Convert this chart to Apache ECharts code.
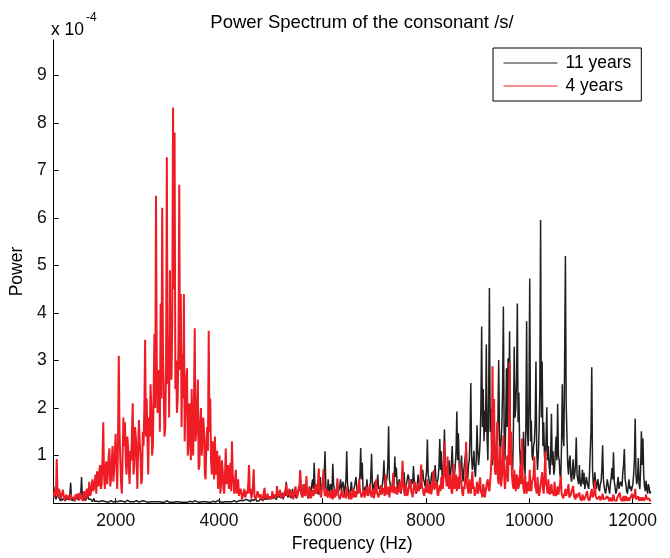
<!DOCTYPE html>
<html>
<head>
<meta charset="utf-8">
<script src="https://cdn.jsdelivr.net/npm/echarts@6/dist/echarts.min.js"></script>
<style>html,body{margin:0;padding:0;background:#fff;}#c{width:670px;height:558px;}</style>
</head>
<body>
<div id="c"></div>
<script>
// Frequency grid (Hz): first sample and spacing
const freqStart = 800;
const freqStep = 15;

// Power of the 11-year-old speaker, in units of 1e-4
const power11 = [
0.36,0.20,0.15,0.08,0.10,0.18,0.30,0.10,0.08,0.05,0.12,0.06,0.05,0.10,0.10,0.04,0.15,0.08,0.06,0.12,0.08,0.20,0.43,0.10,0.05,0.08,0.10,0.04,0.04,0.06,0.12,0.08,0.06,0.03,0.08,0.20,0.55,0.10,0.05,0.06,
0.10,0.05,0.04,0.12,0.30,0.08,0.06,0.04,0.08,0.05,0.03,0.06,0.10,0.04,0.05,0.03,0.04,0.06,0.08,0.03,0.03,0.05,0.05,0.02,0.02,0.04,0.06,0.03,0.03,0.05,0.04,0.02,0.02,0.04,0.05,0.03,0.03,0.02,0.02,0.04,
0.04,0.02,0.02,0.03,0.03,0.05,0.05,0.02,0.02,0.04,0.03,0.02,0.02,0.03,0.04,0.06,0.02,0.03,0.03,0.02,0.05,0.03,0.02,0.04,0.03,0.02,0.02,0.05,0.04,0.03,0.02,0.02,0.03,0.04,0.02,0.03,0.05,0.02,0.02,0.03,
0.03,0.04,0.02,0.02,0.04,0.03,0.02,0.05,0.03,0.02,0.05,0.03,0.02,0.02,0.03,0.04,0.02,0.03,0.04,0.02,0.02,0.05,0.03,0.02,0.02,0.03,0.05,0.04,0.02,0.02,0.03,0.05,0.02,0.03,0.04,0.02,0.02,0.03,0.03,0.04,
0.02,0.03,0.04,0.02,0.02,0.05,0.03,0.02,0.06,0.03,0.02,0.04,0.03,0.02,0.02,0.03,0.04,0.05,0.02,0.02,0.03,0.04,0.05,0.02,0.02,0.03,0.03,0.02,0.02,0.04,0.04,0.03,0.02,0.02,0.03,0.05,0.02,0.03,0.05,0.02,
0.02,0.04,0.03,0.02,0.02,0.03,0.04,0.05,0.02,0.02,0.03,0.04,0.06,0.02,0.02,0.03,0.03,0.05,0.02,0.02,0.04,0.03,0.02,0.04,0.03,0.02,0.05,0.03,0.02,0.04,0.03,0.02,0.02,0.05,0.04,0.03,0.02,0.04,0.03,0.05,
0.04,0.03,0.06,0.04,0.03,0.05,0.05,0.07,0.08,0.04,0.04,0.06,0.06,0.03,0.03,0.08,0.07,0.05,0.05,0.09,0.10,0.06,0.04,0.08,0.08,0.05,0.06,0.10,0.12,0.06,0.05,0.08,0.09,0.12,0.07,0.05,0.15,0.08,0.06,0.10,
0.10,0.06,0.18,0.10,0.08,0.14,0.12,0.07,0.06,0.15,0.20,0.12,0.10,0.08,0.15,0.22,0.08,0.12,0.25,0.15,0.45,0.20,0.12,0.08,0.20,0.28,0.10,0.15,0.30,0.12,0.15,0.25,0.22,0.10,0.08,0.18,0.35,0.25,0.69,0.30,
0.20,0.12,0.40,0.25,0.15,0.22,0.30,0.18,0.10,0.20,0.35,0.15,0.25,0.40,0.50,0.30,0.85,0.35,0.20,0.28,0.40,0.18,0.15,0.30,0.55,0.25,0.30,0.40,0.45,0.60,1.09,0.35,0.25,0.18,0.50,0.30,0.20,0.40,0.35,0.22,
0.83,0.40,0.30,0.20,0.15,0.28,0.40,0.22,0.20,0.35,0.50,0.25,0.25,0.45,0.35,0.18,0.15,0.50,1.09,0.40,0.30,0.15,0.20,0.30,0.45,0.25,0.15,0.28,0.35,0.45,0.55,0.30,0.25,0.20,0.40,0.60,1.16,0.50,0.85,0.30,
0.20,0.30,0.35,0.22,0.50,0.28,0.15,0.25,0.30,0.55,1.04,0.40,0.25,0.35,0.45,0.20,0.20,0.40,0.60,0.30,0.35,0.18,0.15,0.30,0.40,0.55,0.90,0.35,0.30,0.45,0.55,0.80,1.62,0.50,0.40,0.30,0.25,0.45,0.60,0.40,
0.98,0.55,0.75,0.40,0.30,0.45,0.50,0.25,0.20,0.35,0.45,0.55,0.65,0.30,0.25,0.40,0.40,0.60,0.55,0.35,0.30,0.45,0.50,0.40,0.78,0.50,0.35,0.25,0.20,0.40,0.60,0.45,0.40,0.30,0.30,0.55,0.70,0.50,0.45,0.35,
0.35,0.70,1.34,0.60,0.50,0.40,0.30,0.55,0.65,0.45,0.40,0.60,0.80,0.50,0.35,0.45,0.55,0.80,1.35,0.70,1.09,0.55,0.40,0.90,1.55,0.80,0.75,0.60,0.50,0.70,0.90,0.55,0.60,0.85,1.20,0.70,0.45,0.60,0.80,1.10,
1.93,0.90,1.47,0.80,0.60,0.75,1.00,0.60,0.45,0.70,0.85,1.00,1.20,0.65,0.50,0.80,0.90,1.40,2.53,1.00,0.70,0.85,1.10,0.70,0.55,0.90,1.64,1.10,0.80,1.00,1.30,2.00,3.72,1.60,2.40,1.30,1.95,1.50,3.34,1.40,
0.90,2.20,4.53,1.50,1.98,1.00,0.80,1.20,1.40,0.90,0.60,1.10,1.20,1.80,3.01,1.40,1.00,1.30,1.60,2.40,4.14,1.50,0.90,1.70,2.84,1.60,3.05,1.90,3.62,1.40,1.20,0.90,0.70,1.60,3.29,1.80,2.00,2.60,4.20,1.70,
2.33,1.20,0.80,1.10,1.00,0.70,1.50,0.90,0.60,1.60,3.83,1.50,1.20,2.20,4.73,1.30,1.74,1.00,0.90,1.20,1.30,1.70,2.98,1.10,0.70,1.00,1.50,2.40,5.96,1.80,2.98,1.20,1.70,1.00,0.80,1.30,2.02,0.90,1.20,0.80,
0.60,1.00,1.88,0.80,1.09,0.60,0.70,1.10,1.40,0.90,2.09,1.00,0.90,0.60,0.50,1.20,2.50,1.40,1.20,3.00,5.20,2.10,1.43,0.80,0.60,0.90,1.00,0.55,0.45,0.70,0.92,0.50,0.60,0.80,1.38,0.60,0.50,0.40,0.80,0.45,
0.35,0.50,0.70,0.40,0.64,0.30,0.40,0.55,0.55,0.35,0.30,0.60,1.09,1.50,2.86,0.70,0.40,0.30,0.65,0.40,0.30,0.45,0.50,0.30,0.25,0.40,0.45,0.70,1.22,0.50,0.35,0.25,0.20,0.35,0.50,0.40,0.30,0.20,0.40,0.55,
0.74,0.50,1.07,0.45,0.35,0.20,0.25,0.40,0.55,0.30,0.30,0.45,0.45,0.35,0.64,0.80,1.14,0.50,0.40,0.25,0.20,0.35,0.50,0.30,0.35,0.25,0.25,0.40,0.60,0.90,1.78,0.60,0.40,0.50,0.95,0.40,0.30,0.70,1.51,0.80,
1.36,0.60,0.35,0.25,0.47,0.30,0.20,0.40,0.33,0.20,0.25
];

// Power of the 4-year-old speaker, in units of 1e-4
const power4 = [
0.25,0.12,0.30,0.18,0.93,0.20,0.15,0.30,0.22,0.08,0.12,0.20,0.28,0.15,0.10,0.05,0.18,0.12,0.08,0.16,0.15,0.06,0.20,0.10,0.06,0.14,0.12,0.05,0.18,0.10,0.08,0.20,0.14,0.06,0.22,0.12,0.10,0.15,0.05,0.25,
0.16,0.08,0.25,0.30,0.12,0.20,0.45,0.15,0.20,0.35,0.50,0.25,0.30,0.45,0.60,0.20,0.67,0.50,0.35,0.70,0.80,0.30,0.40,0.95,1.70,0.60,0.30,0.75,0.88,0.40,0.60,1.00,1.15,0.35,0.50,0.90,1.20,0.45,0.70,1.10,
1.46,0.80,0.30,1.20,3.10,1.50,0.90,0.40,0.20,1.00,1.80,1.20,1.70,0.90,0.60,1.40,1.20,0.70,0.40,1.10,0.90,1.50,2.10,0.60,0.80,1.60,1.40,0.90,0.30,1.20,1.75,1.30,1.00,0.40,0.50,1.50,1.20,2.00,3.44,1.40,
2.20,1.30,0.60,1.80,1.40,2.50,2.00,1.00,1.20,2.40,3.56,2.00,6.47,3.00,1.90,2.60,2.80,1.50,4.20,2.20,6.22,3.20,2.30,1.40,1.60,2.90,7.28,2.50,3.50,1.80,4.90,2.70,2.60,3.80,8.33,4.50,7.80,2.40,3.00,1.90,
2.20,3.40,6.70,2.80,4.40,1.60,3.15,2.20,4.40,1.30,2.00,2.60,2.84,1.00,1.20,2.10,1.70,0.90,2.40,1.40,1.00,2.20,3.68,1.30,1.50,2.00,2.60,0.70,0.80,1.70,2.00,1.00,0.97,1.80,1.50,0.60,0.50,1.30,1.60,1.10,
3.63,1.50,2.20,0.90,0.60,1.30,1.00,0.50,1.40,0.60,0.80,1.10,0.30,0.70,1.00,0.20,0.40,0.90,0.70,0.30,0.20,0.60,1.15,0.40,0.50,0.80,0.30,0.50,0.85,0.25,1.30,0.60,0.40,0.20,0.50,0.70,0.20,0.35,0.50,0.15,
0.15,0.30,0.25,0.08,0.10,0.20,0.30,0.12,0.12,0.25,0.20,0.40,0.80,0.20,0.30,0.10,0.20,0.35,0.71,0.15,0.15,0.08,0.10,0.25,0.22,0.12,0.08,0.18,0.18,0.05,0.12,0.22,0.32,0.10,0.10,0.15,0.20,0.08,0.06,0.14,
0.15,0.08,0.25,0.12,0.10,0.18,0.20,0.10,0.36,0.15,0.12,0.22,0.28,0.10,0.08,0.20,0.22,0.12,0.15,0.28,0.40,0.15,0.18,0.25,0.30,0.12,0.10,0.20,0.25,0.08,0.15,0.30,0.35,0.18,0.12,0.22,0.28,0.35,0.69,0.20,
0.20,0.12,0.30,0.40,0.15,0.25,0.57,0.20,0.22,0.10,0.35,0.18,0.10,0.22,0.28,0.15,0.18,0.30,0.40,0.20,0.25,0.45,0.73,0.22,0.20,0.12,0.35,0.40,0.71,0.25,0.15,0.20,0.30,0.12,0.10,0.18,0.25,0.10,0.18,0.28,
0.08,0.15,0.30,0.12,0.15,0.28,0.52,0.18,0.20,0.08,0.12,0.22,0.28,0.12,0.10,0.18,0.22,0.10,0.35,0.20,0.15,0.08,0.25,0.15,0.08,0.20,0.30,0.12,0.18,0.25,0.12,0.20,0.35,0.22,0.50,0.28,0.20,0.12,0.10,0.22,
0.28,0.12,0.15,0.25,0.35,0.15,0.22,0.30,0.40,0.20,0.12,0.22,0.30,0.10,0.20,0.35,0.50,0.22,0.25,0.12,0.15,0.28,0.38,0.18,0.22,0.32,0.30,0.15,0.60,0.25,0.18,0.30,0.35,0.12,0.25,0.38,0.40,0.22,0.64,0.30,
0.20,0.28,0.35,0.18,0.15,0.30,0.45,0.22,0.30,0.50,0.89,0.35,0.25,0.15,0.40,0.28,0.15,0.22,0.35,0.45,0.50,0.25,0.20,0.12,0.30,0.38,0.45,0.20,0.18,0.30,0.40,0.25,0.25,0.50,0.81,0.35,0.30,0.20,0.15,0.28,
0.35,0.22,0.50,0.30,0.20,0.35,0.40,0.18,0.30,0.45,0.69,0.28,0.25,0.40,0.45,0.20,0.15,0.30,0.38,0.25,0.55,0.40,0.30,0.70,1.29,0.60,0.50,0.35,0.98,0.45,0.30,0.55,0.60,0.25,0.20,0.50,0.81,0.30,0.40,0.60,
0.25,0.45,0.55,0.30,0.85,0.50,0.40,0.22,0.15,0.35,0.30,0.60,1.29,0.40,0.30,0.20,0.50,0.35,0.20,0.45,0.67,0.30,0.35,0.15,0.15,0.28,0.45,0.20,0.25,0.40,0.54,0.25,0.20,0.12,0.40,0.30,0.12,0.22,0.35,0.45,
0.50,0.30,0.25,0.45,0.70,1.10,2.88,0.90,2.19,0.70,0.60,1.00,1.71,0.50,0.40,0.80,1.19,0.35,0.50,0.90,1.43,0.60,0.30,0.50,0.80,1.00,0.45,1.30,2.97,0.80,1.50,0.60,0.40,0.30,0.70,0.45,0.25,0.60,0.55,0.30,
0.35,0.55,0.80,0.40,1.36,0.50,0.30,0.20,0.60,0.35,0.20,0.40,0.45,0.25,0.70,0.30,0.25,0.45,0.50,0.60,0.98,0.35,0.30,0.20,0.55,0.30,0.15,0.25,0.40,0.50,0.65,0.30,0.20,0.55,1.09,0.40,0.35,0.20,0.50,0.28,
0.18,0.30,0.40,0.20,0.25,0.15,0.45,0.25,0.15,0.22,0.35,0.18,0.20,0.40,0.57,0.22,0.25,0.10,0.12,0.20,0.30,0.15,0.18,0.28,0.40,0.12,0.10,0.18,0.25,0.30,0.36,0.15,0.12,0.08,0.20,0.12,0.08,0.15,0.22,0.10,
0.10,0.05,0.18,0.12,0.06,0.10,0.15,0.20,0.25,0.10,0.08,0.05,0.14,0.22,0.30,0.12,0.10,0.20,0.47,0.15,0.12,0.08,0.05,0.10,0.15,0.06,0.08,0.12,0.20,0.08,0.04,0.10,0.10,0.06,0.15,0.10,0.06,0.04,0.12,0.08,
0.04,0.10,0.18,0.06,0.08,0.04,0.05,0.12,0.12,0.08,0.22,0.10,0.06,0.04,0.10,0.15,0.04,0.08,0.15,0.05,0.08,0.12,0.05,0.03,0.12,0.08,0.20,0.10,0.06,0.15,0.30,0.08,0.04,0.06,0.14,0.05,0.08,0.12,0.05,0.04,
0.12,0.05,0.06,0.10,0.18,0.08,0.05,0.12,0.10,0.04,0.06
];

const xTicks = [2000, 4000, 6000, 8000, 10000, 12000];
const yTicks = [1, 2, 3, 4, 5, 6, 7, 8, 9];
const seriesNames = ['11 years', '4 years'];

const FONT = '"Liberation Sans", Arial, Helvetica, sans-serif';
const toPairs = arr => arr.map((v, i) => [freqStart + i * freqStep, v]);

const chart = echarts.init(document.getElementById('c'), null, {renderer: 'canvas'});
chart.setOption({
  animation: false,
  backgroundColor: '#fff',
  title: {
    text: 'Power Spectrum of the consonant /s/',
    left: 357, top: 8, textAlign: 'center',
    textStyle: {fontFamily: FONT, fontSize: 18.5, fontWeight: 'normal', color: '#000'}
  },
  graphic: [{
    type: 'text', left: 51, top: 12,
    style: {
      text: '{b|x 10}{s|-4}',
      rich: {
        b: {fontFamily: FONT, fontSize: 17.5, fill: '#000', verticalAlign: 'bottom', padding: [9, 0, 0, 0]},
        s: {fontFamily: FONT, fontSize: 12, fill: '#000', verticalAlign: 'top', padding: [0, 0, 10, 2]}
      }
    }
  }],
  legend: {
    data: seriesNames,
    orient: 'vertical',
    left: 493, top: 48,
    padding: [5, 10, 5, 10],
    itemGap: 3,
    itemWidth: 54, itemHeight: 20,
    borderColor: '#000', borderWidth: 1, borderRadius: 0,
    backgroundColor: '#fff',
    itemStyle: {opacity: 0},
    lineStyle: {width: 1},
    textStyle: {fontFamily: FONT, fontSize: 17.5, color: '#000', lineHeight: 20, padding: [0, 0, 0, 3]}
  },
  grid: {left: 50.7, right: 19.3, top: 40, bottom: 45.3, containLabel: false},
  xAxis: {
    type: 'value', min: 800, max: 12350,
    name: 'Frequency (Hz)', nameLocation: 'middle', nameGap: 30,
    nameTextStyle: {fontFamily: FONT, fontSize: 17.5, color: '#000'},
    axisLine: {show: true, lineStyle: {color: '#000', width: 1}},
    axisTick: {show: true, inside: true, length: 5, customValues: xTicks, lineStyle: {color: '#000'}},
    axisLabel: {customValues: xTicks, formatter: v => String(v), fontFamily: FONT, fontSize: 17.5, color: '#111', margin: 9},
    splitLine: {show: false}
  },
  yAxis: {
    type: 'value', min: 0, max: 9.75,
    name: 'Power', nameLocation: 'middle', nameGap: 27,
    nameTextStyle: {fontFamily: FONT, fontSize: 17.5, color: '#000'},
    axisLine: {show: true, lineStyle: {color: '#000', width: 1}},
    axisTick: {show: true, inside: true, length: 5, customValues: yTicks, lineStyle: {color: '#000'}},
    axisLabel: {customValues: yTicks, formatter: v => String(v), fontFamily: FONT, fontSize: 17.5, color: '#111', margin: 7},
    splitLine: {show: false}
  },
  series: [
    {
      name: seriesNames[0], type: 'line', data: toPairs(power11),
      symbol: 'none', showSymbol: false,
      lineStyle: {color: '#231f20', width: 1.5},
      itemStyle: {color: '#231f20'}, z: 2
    },
    {
      name: seriesNames[1], type: 'line', data: toPairs(power4),
      symbol: 'none', showSymbol: false,
      lineStyle: {color: '#ee1c25', width: 2},
      itemStyle: {color: '#ee1c25'}, z: 3
    }
  ]
});
</script>
</body>
</html>
